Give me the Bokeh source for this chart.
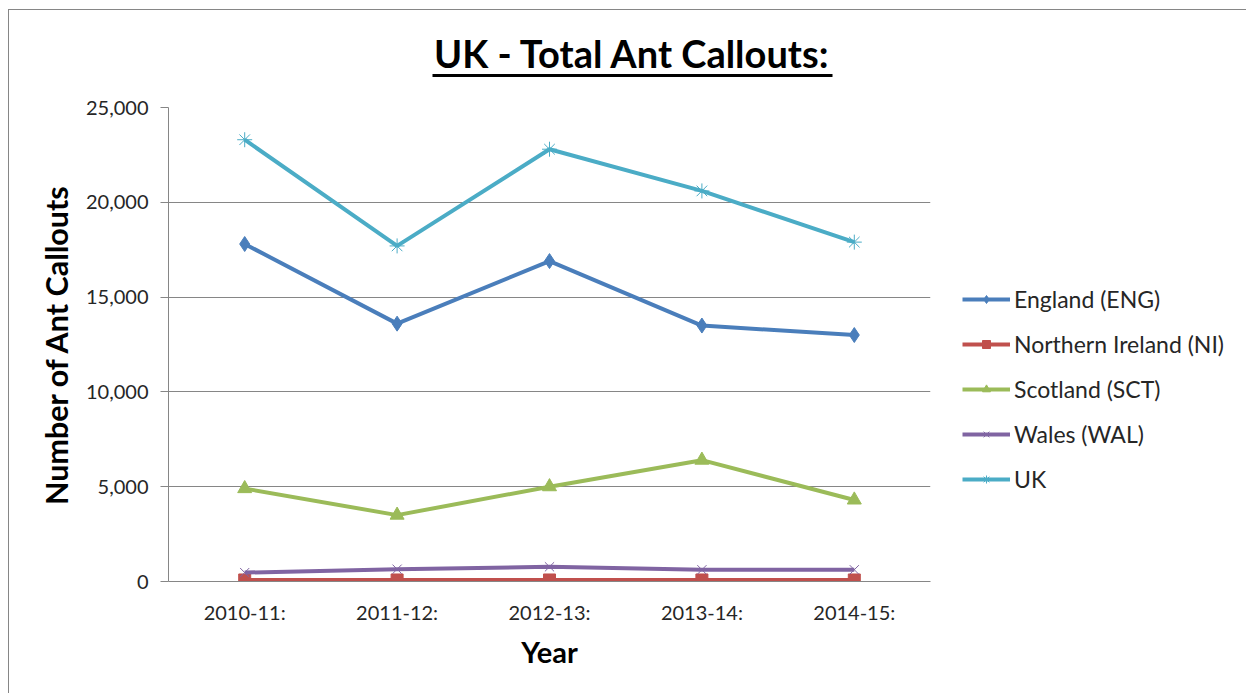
from bokeh.plotting import figure
from bokeh.layouts import column
from bokeh.models import (FactorRange, Range1d, FixedTicker, NumeralTickFormatter,
                          Legend, LegendItem)
from bokeh.core.properties import value
from bokeh.embed import file_html
from bokeh.resources import INLINE

# ---- data ----
years = ["2010-11:", "2011-12:", "2012-13:", "2013-14:", "2014-15:"]
england = [17800, 13600, 16900, 13500, 13000]
northern_ireland = [80, 80, 80, 80, 80]
scotland = [4900, 3500, 5000, 6400, 4300]
wales = [470, 650, 775, 620, 620]
uk = [23300, 17700, 22800, 20600, 17900]
y_ticks = [0, 5000, 10000, 15000, 20000, 25000]
chart_title = "UK - Total Ant Callouts:"

series = [
    ("England (ENG)", england, "#4A7EBB", "diamond", 15, 1),
    ("Northern Ireland (NI)", northern_ireland, "#C0504D", "square", 12, 1),
    ("Scotland (SCT)", scotland, "#9BBB59", "triangle", 14, 1),
    ("Wales (WAL)", wales, "#8064A2", "x", 13, 1),
    ("UK", uk, "#4BACC6", "asterisk", 15, 1),
]

FONT = "Lato"
W = 1235
TOP_H = 72
FW = 762

# ---- title strip (same horizontal frame as the chart) ----
t = figure(width=W, height=TOP_H, x_range=Range1d(0, FW), y_range=Range1d(0, TOP_H),
           x_axis_type=None, y_axis_type=None, output_backend="svg", toolbar_location=None,
           min_border_left=159, min_border_right=314, min_border_top=0, min_border_bottom=0)
t.frame_width = FW
t.frame_height = TOP_H
t.outline_line_color = None
t.grid.visible = False
t.text(x=[464], y=[29.5], text=[chart_title], text_font=value(FONT),
       text_font_size="38px", text_font_style="bold", text_align="center",
       text_baseline="alphabetic", text_color="black")
t.quad(left=[264], right=[664], top=[8.5], bottom=[5.5], fill_color="black", line_color=None)

# ---- main chart ----
p = figure(width=W, height=611, x_range=FactorRange(*years, range_padding=0),
           y_range=Range1d(0, 25000), output_backend="svg", toolbar_location=None,
           min_border_left=159, min_border_right=314, min_border_top=25, min_border_bottom=112)
p.frame_width = FW
p.frame_height = 474
p.outline_line_color = None

p.xgrid.grid_line_color = None
p.ygrid.grid_line_color = "#868686"
p.ygrid.grid_line_width = 1
p.yaxis.ticker = FixedTicker(ticks=y_ticks)
p.yaxis.formatter = NumeralTickFormatter(format="0,0")
p.yaxis.axis_line_color = "#868686"
p.yaxis.major_tick_line_color = "#868686"
p.yaxis.major_tick_out = 8
p.yaxis.major_tick_in = 0
p.yaxis.minor_tick_line_color = None
p.yaxis.major_label_standoff = 12
p.yaxis.major_label_text_font = FONT
p.yaxis.major_label_text_font_size = "20px"
p.yaxis.major_label_text_color = "#262626"
p.yaxis.axis_label = "Number of Ant Callouts"
p.yaxis.axis_label_text_font = FONT
p.yaxis.axis_label_text_font_size = "30.5px"
p.yaxis.axis_label_text_font_style = "bold"
p.yaxis.axis_label_text_color = "black"
p.yaxis.axis_label_standoff = 9

p.xaxis.axis_line_color = "#868686"
p.xaxis.major_tick_line_color = None
p.xaxis.major_tick_out = 0
p.xaxis.major_tick_in = 0
p.xaxis.major_label_standoff = 18
p.xaxis.major_label_text_font = FONT
p.xaxis.major_label_text_font_size = "20px"
p.xaxis.major_label_text_color = "#262626"
p.xaxis.axis_label = "Year"
p.xaxis.axis_label_text_font = FONT
p.xaxis.axis_label_text_font_size = "29px"
p.xaxis.axis_label_text_font_style = "bold"
p.xaxis.axis_label_text_color = "black"
p.xaxis.axis_label_standoff = 7

items = []
for name, vals, color, marker, size, lw in series:
    r1 = p.line(years, vals, line_color=color, line_width=4)
    r2 = p.scatter(years, vals, marker=marker, size=size, fill_color=color,
                   line_color=color, line_width=lw)
    items.append(LegendItem(label=name, renderers=[r1, r2]))

legend = Legend(items=items, location=(32, 88), orientation="vertical")
legend.background_fill_alpha = 0
legend.border_line_color = None
legend.padding = 0
legend.margin = 0
legend.glyph_width = 48
legend.glyph_height = 20
legend.label_height = 20
legend.spacing = 17
legend.label_standoff = 4
legend.label_text_font = FONT
legend.label_text_font_size = "23px"
legend.label_text_color = "#262626"
p.add_layout(legend, "right")

layout = column(t, p, spacing=0,
                styles={"margin-left": "8px", "margin-top": "9px",
                        "border-left": "1.5px solid #868686",
                        "border-top": "1.5px solid #868686"})

open("out.html", "w").write(file_html(layout, INLINE))
